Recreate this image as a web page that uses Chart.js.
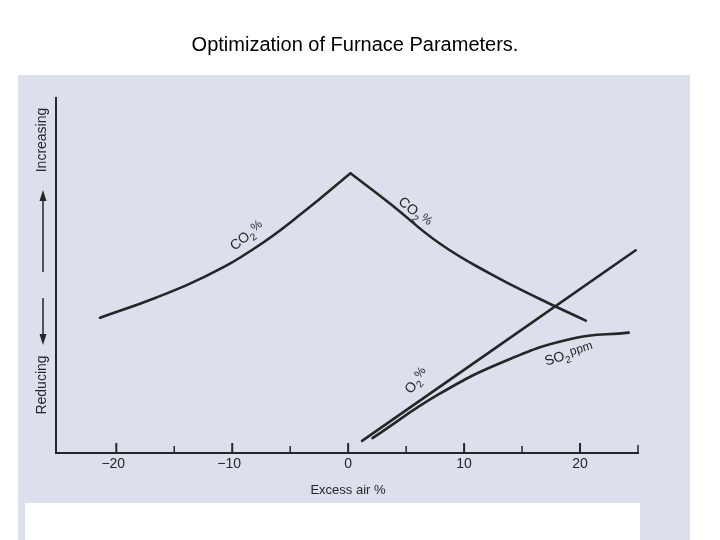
<!DOCTYPE html>
<html>
<head>
<meta charset="utf-8">
<script src="https://cdn.jsdelivr.net/npm/chart.js@4"></script>
<style>
  html,body{margin:0;padding:0;background:#fff;}
  #wrap{width:720px;height:540px;}
</style>
</head>
<body>
<div id="wrap"><canvas id="c" width="720" height="540"></canvas></div>
<script>
/* data: x = excess air %, y = relative level (0..100) */
const xTicks = [-20, -10, 0, 10, 20];
const xMinorTicks = [-15, -5, 5, 15];
const co2X = [-21.4, -16.7, -12.4, -8.1, -3.8, 0.2, 3.6, 7.9, 12.2, 16.4, 20.5];
const co2Y = [38.1, 43.6, 49.6, 57.6, 68.0, 78.8, 70.3, 59.0, 50.6, 43.6, 37.3];
const o2X  = [1.2, 24.8];
const o2Y  = [3.4, 57.1];
const so2X = [2.1, 7.9, 13.6, 19.3, 24.2];
const so2Y = [4.2, 16.7, 26, 32.2, 33.9];

const pts = (xs, ys) => xs.map((x, i) => ({x, y: ys[i]}));
const ink = '#262626';

// the CO2 peak is a corner, so both sides are drawn as separate pieces
const co2Left  = pts(co2X.slice(0, 6), co2Y.slice(0, 6));
const co2Right = pts(co2X.slice(5), co2Y.slice(5));

const decor = {
  id: 'decor',
  beforeDraw(chart){
    const c = chart.ctx;
    c.save();
    c.fillStyle = '#fff'; c.fillRect(0, 0, 720, 540);
    c.fillStyle = '#dcdfec'; c.fillRect(18, 75, 672, 465);
    c.fillStyle = '#fff'; c.fillRect(25, 503, 615, 37);
    c.fillStyle = '#000';
    c.font = '20px "Liberation Sans", Arial, sans-serif';
    c.textAlign = 'center'; c.textBaseline = 'middle';
    c.fillText('Optimization of Furnace Parameters.', 355, 45);
    c.restore();
  },
  afterDraw(chart){
    const c = chart.ctx, xs = chart.scales.x, ys = chart.scales.y;
    const base = ys.getPixelForValue(0);
    c.save();
    c.strokeStyle = ink; c.fillStyle = ink;
    c.lineWidth = 2;
    xTicks.forEach(v => {
      const p = xs.getPixelForValue(v);
      c.beginPath(); c.moveTo(p, base); c.lineTo(p, base - 10); c.stroke();
    });
    c.lineWidth = 1.5;
    xMinorTicks.forEach(v => {
      const p = xs.getPixelForValue(v);
      c.beginPath(); c.moveTo(p, base); c.lineTo(p, base - 7); c.stroke();
    });
    const right = xs.getPixelForValue(25);
    c.beginPath(); c.moveTo(right, base); c.lineTo(right, base - 8); c.stroke();

    c.font = '14px "Liberation Sans", Arial, sans-serif';
    c.textAlign = 'center'; c.textBaseline = 'middle';
    xTicks.forEach(v => {
      c.fillText(v < 0 ? '\u2212' + Math.abs(v) : String(v), xs.getPixelForValue(v) - (v < 0 ? 3 : 0), 464);
    });
    c.font = '13px "Liberation Sans", Arial, sans-serif';
    c.fillText('Excess air %', 348, 490);

    // side labels with arrows
    const ax = 43;
    c.font = '14px "Liberation Sans", Arial, sans-serif';
    c.save(); c.translate(ax - 1, 140); c.rotate(-Math.PI / 2);
    c.fillText('Increasing', 0, 0); c.restore();
    c.save(); c.translate(ax - 1, 385); c.rotate(-Math.PI / 2);
    c.fillText('Reducing', 0, 0); c.restore();
    c.lineWidth = 1.5;
    c.beginPath(); c.moveTo(ax, 272); c.lineTo(ax, 196); c.stroke();
    c.beginPath(); c.moveTo(ax, 190); c.lineTo(ax - 3.5, 201); c.lineTo(ax + 3.5, 201); c.closePath(); c.fill();
    c.beginPath(); c.moveTo(ax, 298); c.lineTo(ax, 338); c.stroke();
    c.beginPath(); c.moveTo(ax, 345); c.lineTo(ax - 3.5, 334); c.lineTo(ax + 3.5, 334); c.closePath(); c.fill();

    // curve labels
    const lab = (txt, sub, tail, x, y, ang) => {
      c.save(); c.translate(x, y); c.rotate(ang * Math.PI / 180);
      c.textAlign = 'left';
      c.font = '14px "Liberation Sans", Arial, sans-serif';
      const w1 = c.measureText(txt).width;
      c.fillText(txt, 0, 0);
      c.font = '10px "Liberation Sans", Arial, sans-serif';
      c.fillText(sub, w1, 5);
      const w2 = c.measureText(sub).width;
      c.font = '12px "Liberation Sans", Arial, sans-serif';
      c.fillText(tail, w1 + w2 + 1, -2);
      c.restore();
    };
    lab('CO', '2', '%', 232, 248, -38);
    lab('CO', '2', '%', 400, 200, 40);
    lab('O', '2', '%', 408, 392, -52);
    lab('SO', '2', 'ppm', 545, 362, -17);
    c.restore();
  }
};

const line = (data) => ({
  data, borderColor: ink, borderWidth: 2.6, pointRadius: 0,
  tension: 0.45, fill: false, borderCapStyle: 'round'
});

new Chart(document.getElementById('c'), {
  type: 'line',
  data: { datasets: [line(co2Left), line(co2Right), line(pts(o2X, o2Y)), line(pts(so2X, so2Y))] },
  options: {
    responsive: false, animation: false,
    layout: { padding: { left: 48, right: 82, top: 98, bottom: 79 } },
    plugins: { legend: { display: false }, tooltip: { enabled: false } },
    scales: {
      x: { type: 'linear', min: -25.2, max: 25, grid: { display: false },
           ticks: { display: false }, border: { color: ink, width: 2 } },
      y: { min: 0, max: 100, grid: { display: false },
           ticks: { display: false }, border: { color: ink, width: 2 } }
    }
  },
  plugins: [decor]
});
</script>
</body>
</html>
